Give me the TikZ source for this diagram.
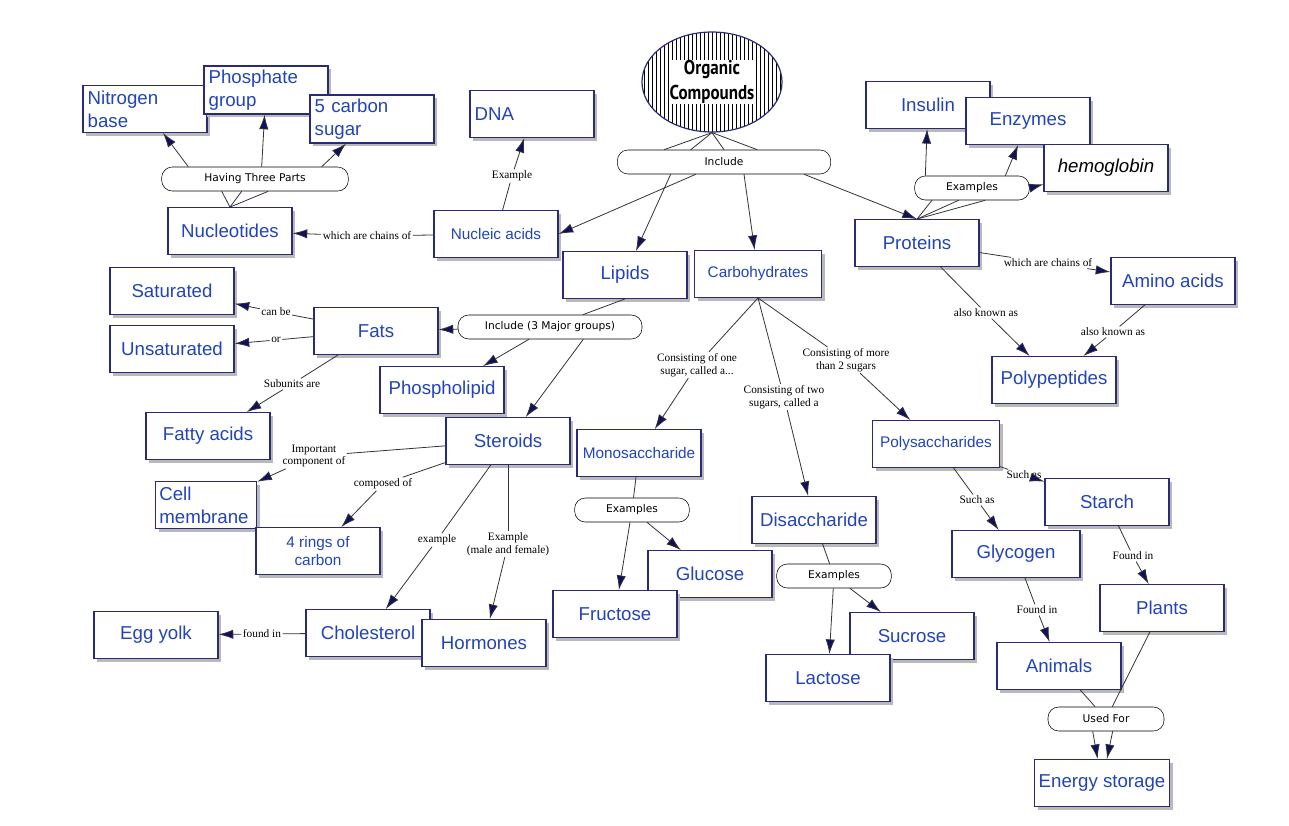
\documentclass[tikz,border=0pt]{standalone}
\usepackage{fontspec}
\setmainfont{Liberation Sans}
\newfontfamily\lblfont{Liberation Serif}
\newfontfamily\pillfont{DejaVu Sans}
\newfontfamily\titlefont{PT Sans}
\usetikzlibrary{shapes.geometric,shadows,patterns,arrows.meta}
\definecolor{bord}{HTML}{2A2A7A}
\definecolor{txt}{HTML}{2244B8}
\definecolor{tip}{HTML}{101060}
\tikzset{
  box/.style={draw=bord,line width=0.9pt,fill=white,text=txt,minimum width=93pt,minimum height=35pt,
    font=\fontsize{14}{17}\selectfont,drop shadow={shadow xshift=2.5pt,shadow yshift=-2.5pt,fill=gray!55,opacity=1}},
  sbox/.style={box,font=\fontsize{11.5}{14}\selectfont},
  lbox/.style={box,align=left,text width=86pt,inner sep=3pt},
  pill/.style={draw=black,fill=white,rounded corners=8pt,minimum height=18pt,font=\pillfont\fontsize{8}{10}\selectfont},
  lbl/.style={fill=white,inner sep=1pt,font=\lblfont\fontsize{8.5}{9.5}\selectfont,align=center},
  ln/.style={draw=black!80,line width=0.6pt},
  ar/.style={ln,-{Latex[length=11pt,width=7pt,fill=tip]}}
}
\begin{document}
\begin{tikzpicture}[x=0.75pt,y=-0.75pt]
\useasboundingbox (0,0) rectangle (1289,825);
% title
\node[ellipse,draw=bord,line width=0.9pt,pattern=vertical lines,minimum width=105pt,minimum height=75pt] (org) at (712,82) {};
\node[fill=white,inner sep=0.5pt,font=\titlefont\bfseries\fontsize{15}{19}\selectfont,align=center] (orgt) at (712,82) {\scalebox{0.85}[1]{Organic}\\\scalebox{0.85}[1]{Compounds}};
\node[pill,minimum width=160pt] (inc) at (724,162) {Include};
% boxes
\node[lbox] (nit) at (145,109) {Nitrogen\\base};
\node[lbox] (pho) at (266,90) {Phosphate\\group};
\node[lbox] (five) at (372,119) {5 carbon\\sugar};
\node[lbox] (dna) at (532,114) {\raisebox{-6pt}{DNA}};
\node[box] (ins) at (928,105) {Insulin};
\node[box] (enz) at (1028,121) {Enzymes};
\node[box,text=black,font=\fontsize{14}{17}\selectfont\itshape] (hem) at (1106,168) {hemoglobin};
\node[pill,minimum width=140pt] (three) at (255,179) {Having Three Parts};
\node[pill,minimum width=86pt] (exP) at (972,188) {Examples};
\node[box] (nuc) at (230,231) {Nucleotides};
\node[sbox] (nac) at (496,234) {Nucleic acids};
\node[box] (pro) at (917,243) {Proteins};
\node[box] (lip) at (625,275) {Lipids};
\node[sbox,minimum width=95pt] (car) at (758,274) {Carbohydrates};
\node[box] (ami) at (1173,281) {Amino acids};
\node[box] (sat) at (172,291) {Saturated};
\node[box] (fat) at (376,331) {Fats};
\node[box] (uns) at (172,349) {Unsaturated};
\node[pill,minimum width=138pt] (inc3) at (550,327) {Include (3 Major groups)};
\node[box] (pol) at (1054,380) {Polypeptides};
\node[box] (phl) at (442,390) {Phospholipid};
\node[box] (fta) at (208,436) {Fatty acids};
\node[box] (ste) at (508,441) {Steroids};
\node[sbox] (mon) at (639,453) {Monosaccharide};
\node[sbox,minimum width=95pt] (pols) at (936,444) {Polysaccharides};
\node[lbox,text width=70pt,minimum width=76pt] (cel) at (206,505) {Cell\\membrane};
\node[sbox,align=center] (four) at (318,551) {4 rings of\\carbon};
\node[pill,minimum width=86pt] (exM) at (632,510) {Examples};
\node[box] (dis) at (814,520) {Disaccharide};
\node[box] (sta) at (1107,502) {Starch};
\node[box,minimum width=96pt] (gly) at (1016,554) {Glycogen};
\node[box] (glu) at (710,574) {Glucose};
\node[pill,minimum width=86pt] (exD) at (834,576) {Examples};
\node[box] (fru) at (615,614) {Fructose};
\node[box] (pla) at (1162,608) {Plants};
\node[box] (egg) at (156,635) {Egg yolk};
\node[box] (cho) at (368,633) {Cholesterol};
\node[box] (hor) at (484,643) {Hormones};
\node[box] (suc) at (912,636) {Sucrose};
\node[box] (lac) at (828,678) {Lactose};
\node[box] (ani) at (1059,666) {Animals};
\node[pill,minimum width=87pt] (used) at (1106,719) {Used For};
\node[box] (ene) at (1102,783) {Energy storage};
% labels
\node[lbl] (lA) at (367,236) {which are chains of};
\node[lbl] (lB) at (512,176) {Example};
\node[lbl] (lC) at (276,312) {can be};
\node[lbl] (lD) at (276,340) {or};
\node[lbl] (lE) at (292,384) {Subunits are};
\node[lbl] (lF) at (314,456) {Important\\component of};
\node[lbl] (lG) at (383,484) {composed of};
\node[lbl] (lH) at (437,540) {example};
\node[lbl] (lI) at (508,544) {Example\\(male and female)};
\node[lbl] (lJ) at (262,634) {found in};
\node[lbl] (lK) at (697,365) {Consisting of one\\sugar, called a...};
\node[lbl] (lL) at (784,397) {Consisting of two\\sugars, called a};
\node[lbl] (lM) at (846,360) {Consisting of more\\than 2 sugars};
\node[lbl] (lN) at (1048,263) {which are chains of};
\node[lbl] (lO) at (986,313) {also known as};
\node[lbl] (lP) at (1113,332) {also known as};
\node[lbl] (lQ) at (1024,475) {Such as};
\node[lbl] (lR) at (977,500) {Such as};
\node[lbl] (lS) at (1133,556) {Found in};
\node[lbl] (lT) at (1037,610) {Found in};
% connectors
\foreach \s in {-45,-25,0,25} \draw[ln] (org.south) -- ([xshift=\s pt]inc.north);
\draw[ar] (inc) -- (nac.east);
\draw[ar] ([xshift=-40pt]inc.south) -- (lip);
\draw[ar] ([xshift=15pt]inc.south) -- (car);
\draw[ar] ([xshift=60pt]inc.south) -- (pro.north);
\foreach \s in {-25,-10,10} \draw[ln] (nuc.north) -- ([xshift=\s pt]three.south);
\draw[ar] ([xshift=-50pt]three.north) -- (nit);
\draw[ar] ([xshift=5pt]three.north) -- (pho);
\draw[ar] ([xshift=50pt]three.north) -- (five);
\draw[ln] (nac) -- (lA); \draw[ar] (lA) -- (nuc);
\draw[ln] (nac) -- (lB); \draw[ar] (lB) -- (dna);
\foreach \s in {-30,-10,10} \draw[ln] (pro.north) -- ([xshift=\s pt]exP.south);
\draw[ar] ([xshift=-35pt]exP.north) -- (ins);
\draw[ar] ([xshift=25pt]exP.north) -- (enz);
\draw[ar] (exP.east) -- (hem);
\draw[ln] (pro) -- (lN); \draw[ar] (lN) -- (ami);
\draw[ln] (pro) -- (lO); \draw[ar] (lO) -- (pol);
\draw[ln] (ami) -- (lP); \draw[ar] (lP) -- (pol);
\draw[ln] (lip.south) -- (inc3);
\draw[ar] (inc3) -- (fat);
\draw[ar] (inc3) -- (phl);
\draw[ar] ([xshift=25pt]inc3.south) -- (ste);
\draw[ln] (fat) -- (lC); \draw[ar] (lC) -- (sat);
\draw[ln] (fat) -- (lD); \draw[ar] (lD) -- (uns);
\draw[ln] (fat) -- (lE); \draw[ar] (lE) -- (fta);
\draw[ln] (ste) -- (lF); \draw[ar] (lF) -- (cel);
\draw[ln] (ste) -- (lG); \draw[ar] (lG) -- (four);
\draw[ln] (ste) -- (lH); \draw[ar] (lH) -- (cho);
\draw[ln] (ste) -- (lI); \draw[ar] (lI) -- (hor);
\draw[ln] (cho) -- (lJ); \draw[ar] (lJ) -- (egg);
\draw[ln] (car.south) -- (lK); \draw[ar] (lK) -- (mon);
\draw[ln] (car.south) -- (lL); \draw[ar] (lL) -- (dis);
\draw[ln] (car.south) -- (lM); \draw[ar] (lM) -- (pols);
\draw[ln] (mon) -- (exM); \draw[ar] (exM) -- (fru); \draw[ar] (exM) -- (glu);
\draw[ln] (dis) -- (exD); \draw[ar] (exD) -- (lac); \draw[ar] (exD) -- (suc);
\draw[ln] (pols) -- (lQ); \draw[ar] (lQ) -- (sta);
\draw[ln] (pols) -- (lR); \draw[ar] (lR) -- (gly);
\draw[ln] (sta) -- (lS); \draw[ar] (lS) -- (pla);
\draw[ln] (gly) -- (lT); \draw[ar] (lT) -- (ani);
\draw[ln] (ani) -- (used); \draw[ln] (pla) -- (used);
\draw[ar] ([xshift=-10pt]used.south) -- (ene);
\draw[ar] ([xshift=5pt]used.south) -- (ene);
\end{tikzpicture}
\end{document}
